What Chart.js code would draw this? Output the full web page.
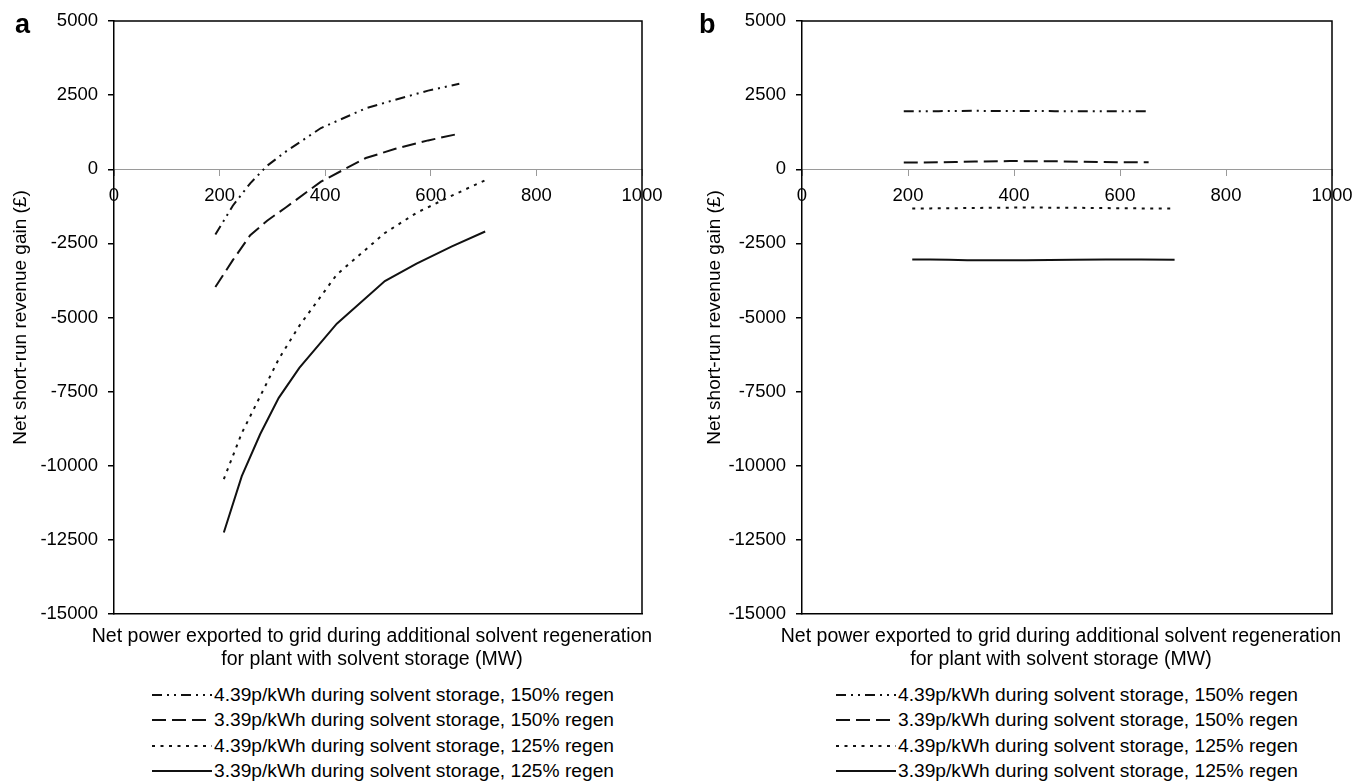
<!DOCTYPE html>
<html>
<head>
<meta charset="utf-8">
<title>Net short-run revenue gain</title>
<script src="https://cdn.jsdelivr.net/npm/chart.js@4.4.1/dist/chart.umd.min.js"></script>
<style>
  body { margin: 0; background: #fff; }
  #page { position: relative; width: 1352px; height: 783px; overflow: hidden; font-family: "Liberation Sans", Arial, sans-serif; color: #000; }
  .panel { position: absolute; top: 0; width: 676px; height: 680px; }
  .panel-letter { position: absolute; font-weight: bold; font-size: 27px; line-height: 26px; }
  .x-title { position: absolute; top: 623.5px; width: 700px; text-align: center; font-size: 19.5px; line-height: 23px; white-space: nowrap; }
  .legend { position: absolute; top: 682px; font-size: 19.2px; }
  .legend-row { display: flex; align-items: center; height: 25.5px; white-space: nowrap; }
  .legend-row svg { width: 60px; height: 10px; margin-right: 2px; flex: none; }
</style>
</head>
<body>
<div id="page">
  <div class="panel" style="left:0"><canvas id="chartA" width="676" height="680"></canvas></div>
  <div class="panel" style="left:676px"><canvas id="chartB" width="676" height="680"></canvas></div>
  <div class="panel-letter" style="left:15px;top:11px">a</div>
  <div class="panel-letter" style="left:699px;top:11px">b</div>
  <div class="x-title" id="xTitleA" style="left:22px"></div>
  <div class="x-title" id="xTitleB" style="left:711px"></div>
  <div class="legend" id="legendA" style="left:152px"></div>
  <div class="legend" id="legendB" style="left:836px"></div>
</div>
<script>
// Net power exported (MW) at each point, per regen level
const power150 = [192, 225, 258, 290, 326, 392, 477, 533, 595, 654];
const power125 = [208, 242, 277, 312, 351, 422, 513, 573, 640, 703];

// Panel a: net short-run revenue gain (£)
const gainA_439_150 = [-2200, -1230, -475, 118, 604, 1390, 2056, 2346, 2652, 2885];
const gainA_339_150 = [-3970, -3066, -2225, -1735, -1281, -416, 378, 690, 973, 1200];
const gainA_439_125 = [-10450, -8900, -7650, -6400, -5280, -3550, -2150, -1470, -890, -370];
const gainA_339_125 = [-12250, -10350, -8930, -7710, -6700, -5210, -3770, -3180, -2600, -2100];

// Panel b
const gainB_439_150 = [1960, 1955, 1960, 1965, 1970, 1965, 1960, 1960, 1960, 1955];
const gainB_339_150 = [230, 230, 235, 245, 260, 275, 270, 250, 240, 235];
const gainB_439_125 = [-1320, -1320, -1315, -1310, -1300, -1290, -1300, -1310, -1320, -1325];
const gainB_339_125 = [-3040, -3040, -3055, -3065, -3065, -3065, -3055, -3045, -3045, -3050];

const seriesLabels = [
    '4.39p/kWh during solvent storage, 150% regen',
    '3.39p/kWh during solvent storage, 150% regen',
    '4.39p/kWh during solvent storage, 125% regen',
    '3.39p/kWh during solvent storage, 125% regen'
];

const powerTicks = [0, 200, 400, 600, 800, 1000];
const gainTicks = [-15000, -12500, -10000, -7500, -5000, -2500, 0, 2500, 5000];

const xTitle = ['Net power exported to grid during additional solvent regeneration', 'for plant with solvent storage (MW)'];
const yTitle = 'Net short-run revenue gain (£)';

// line styles for the four series
const lineDashes = [[10, 5, 2, 5, 2, 5], [14, 6], [3, 5.5], []];

Chart.defaults.font.family = '"Liberation Sans", Arial, sans-serif';
Chart.defaults.color = '#000';

function zeroPad(scale) {
    scale.paddingLeft = 0;
    scale.paddingRight = 0;
    scale.paddingTop = 0;
    scale.paddingBottom = 0;
}

// draws the top and right edges of the plot box
const framePlugin = {
    id: 'frame',
    afterDatasetsDraw(chart) {
        const { ctx, chartArea } = chart;
        ctx.save();
        ctx.strokeStyle = '#000';
        ctx.lineWidth = 1.5;
        ctx.beginPath();
        ctx.moveTo(chartArea.left, chartArea.top);
        ctx.lineTo(chartArea.right, chartArea.top);
        ctx.lineTo(chartArea.right, chartArea.bottom);
        ctx.stroke();
        ctx.restore();
    }
};

function makeDatasets(values) {
    return seriesLabels.map((label, i) => ({
        label: label,
        data: (i < 2 ? power150 : power125).map((x, j) => ({ x: x, y: values[i][j] })),
        borderColor: '#111',
        borderWidth: 2,
        borderDash: lineDashes[i],
        pointRadius: 0,
        fill: false,
        tension: 0
    }));
}

function makeChart(canvasId, values, axisWidth, padRight, titlePad) {
    const ctx = document.getElementById(canvasId).getContext('2d');
    return new Chart(ctx, {
        type: 'line',
        data: { datasets: makeDatasets(values) },
        plugins: [framePlugin],
        options: {
            responsive: false,
            animation: false,
            layout: { padding: { top: 21, right: padRight, bottom: 0, left: 0 } },
            plugins: { legend: { display: false }, tooltip: { enabled: false } },
            scales: {
                x: {
                    type: 'linear',
                    position: { y: 0 },
                    min: powerTicks[0],
                    max: powerTicks[powerTicks.length - 1],
                    afterBuildTicks: s => { s.ticks = powerTicks.map(v => ({ value: v })); },
                    ticks: { callback: v => String(v), font: { size: 18.5 }, color: '#000', padding: 10, maxRotation: 0, autoSkip: false },
                    grid: { display: true, drawOnChartArea: false, drawTicks: true, tickLength: 6, color: '#9a9a9a' },
                    border: { display: true, color: '#9a9a9a', width: 1 },
                    afterFit: zeroPad
                },
                // bottom edge of the plot box
                xFrame: {
                    type: 'linear',
                    position: 'bottom',
                    min: powerTicks[0],
                    max: powerTicks[powerTicks.length - 1],
                    ticks: { display: false },
                    grid: { display: false, drawTicks: false },
                    border: { display: true, color: '#000', width: 1.5 },
                    afterFit: s => { s.height = 66; zeroPad(s); }
                },
                y: {
                    type: 'linear',
                    position: 'left',
                    min: gainTicks[0],
                    max: gainTicks[gainTicks.length - 1],
                    afterBuildTicks: s => { s.ticks = gainTicks.map(v => ({ value: v })); },
                    ticks: { callback: v => String(v), font: { size: 18.5 }, color: '#000', padding: 10 },
                    grid: { display: true, drawOnChartArea: false, drawTicks: true, tickLength: 6, color: '#000', lineWidth: 1.5 },
                    border: { display: true, color: '#000', width: 1.5 },
                    title: { display: true, text: yTitle, font: { size: 19 }, color: '#000', padding: { top: titlePad, bottom: 0 } },
                    afterFit: s => { s.width = axisWidth; zeroPad(s); }
                }
            }
        }
    });
}

// x axis title as html (canvas title would be squeezed to the plot width)
function setXTitle(id) {
    document.getElementById(id).innerHTML = xTitle.join('<br>');
}

// HTML legend, one row per dataset
function buildLegend(chart, containerId) {
    const container = document.getElementById(containerId);
    chart.data.datasets.forEach(ds => {
        const row = document.createElement('div');
        row.className = 'legend-row';
        const dash = ds.borderDash.length ? ds.borderDash.join(' ') : 'none';
        row.innerHTML = '<svg viewBox="0 0 60 10"><line x1="0" y1="5" x2="60" y2="5" stroke="#111" stroke-width="2" stroke-dasharray="' + dash + '"/></svg>';
        const span = document.createElement('span');
        span.textContent = ds.label;
        row.appendChild(span);
        container.appendChild(row);
    });
}

const chartA = makeChart('chartA', [gainA_439_150, gainA_339_150, gainA_439_125, gainA_339_125], 114, 34, 9.5);
const chartB = makeChart('chartB', [gainB_439_150, gainB_339_150, gainB_439_125, gainB_339_125], 126, 20, 27.5);
setXTitle('xTitleA');
setXTitle('xTitleB');
buildLegend(chartA, 'legendA');
buildLegend(chartB, 'legendB');
</script>
</body>
</html>
